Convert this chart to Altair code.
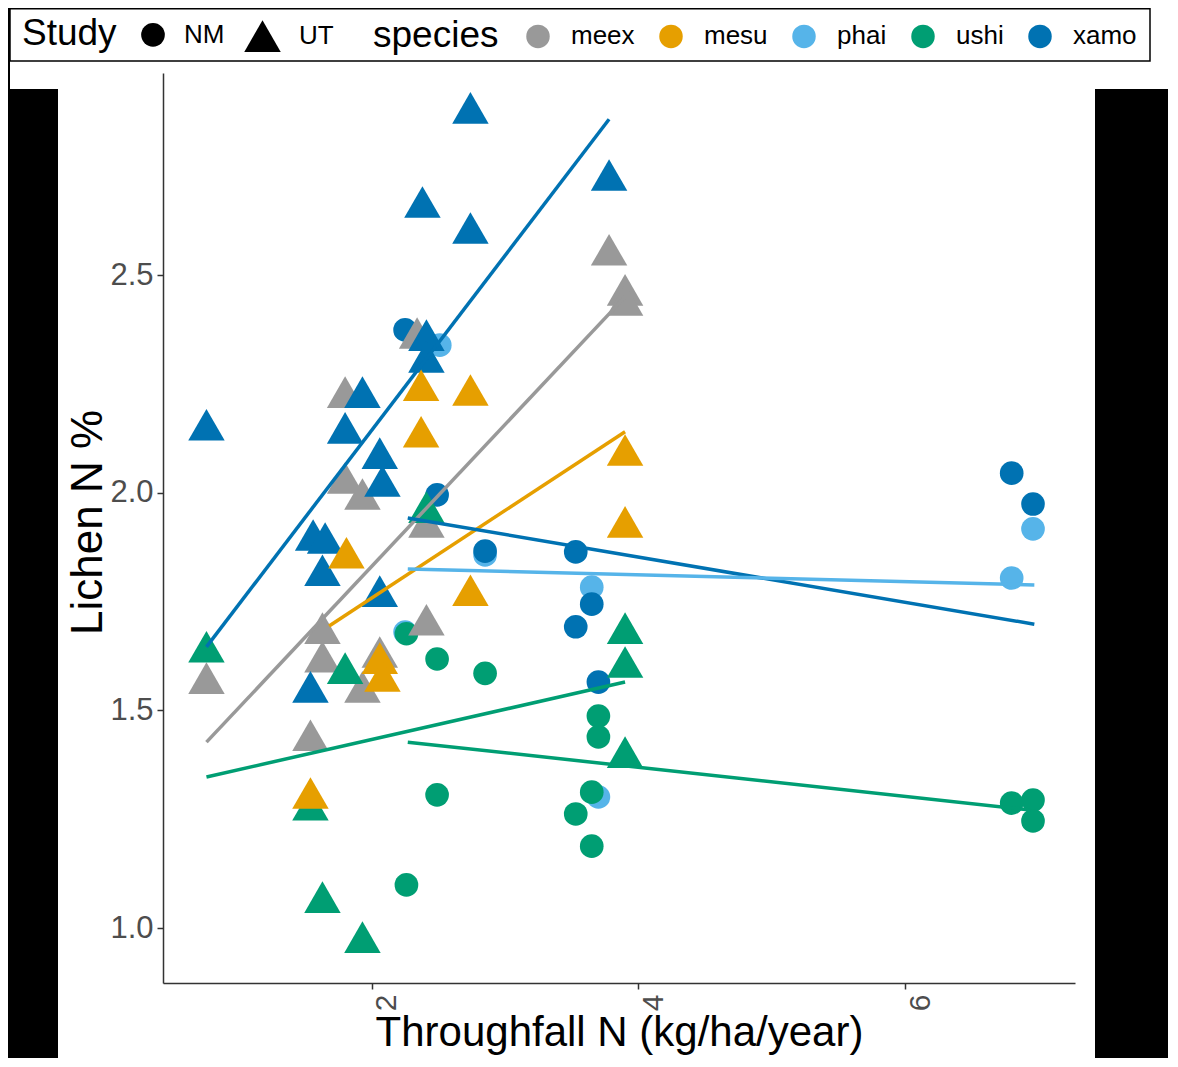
import altair as alt
import pandas as pd

FONT = "Liberation Sans"

species_order = ["meex", "mesu", "phai", "ushi", "xamo"]
species_colors = ["#999999", "#E69F00", "#56B4E9", "#009E73", "#0072B2"]
study_order = ["NM", "UT"]
study_shapes = ["circle", "triangle-up"]

# ---- points (Throughfall N, Lichen N %) ----
phai_NM_x = [2.51, 2.25, 2.85, 3.65, 3.70, 6.80, 6.96]
phai_NM_y = [2.339, 1.680, 1.857, 1.783, 1.301, 1.804, 1.917]

xamo_NM_x = [2.25, 2.49, 2.85, 3.53, 3.65, 3.53, 3.70, 6.80, 6.96]
xamo_NM_y = [2.374, 1.995, 1.866, 1.864, 1.744, 1.692, 1.565, 2.045, 1.974]

ushi_NM_x = [2.26, 2.49, 2.85, 2.49, 2.26, 3.70, 3.70, 3.65, 3.53, 3.65, 6.80, 6.96, 6.96]
ushi_NM_y = [1.676, 1.618, 1.585, 1.306, 1.099, 1.487, 1.439, 1.312, 1.262, 1.188, 1.287, 1.294, 1.246]

meex_UT_x = [0.76, 1.80, 2.34, 1.80, 1.93, 2.41, 2.41, 1.63, 1.63, 1.93, 1.54, 3.78, 3.90, 3.90, 2.06]
meex_UT_y = [1.574, 2.231, 2.367, 2.034, 1.997, 1.933, 1.708, 1.689, 1.623, 1.554, 1.443, 2.558, 2.466, 2.443, 1.634]

ushi_UT_x = [0.76, 2.41, 1.80, 1.54, 1.63, 1.93, 3.90, 3.90, 3.90]
ushi_UT_y = [1.646, 1.967, 1.597, 1.283, 1.071, 0.979, 1.689, 1.611, 1.404]

xamo_UT_x = [0.76, 2.74, 2.38, 2.74, 3.78, 1.93, 1.80, 2.41, 2.41, 2.06, 2.08, 1.56, 1.65, 1.63, 2.06, 1.54]
xamo_UT_y = [2.156, 2.884, 2.668, 2.608, 2.730, 2.231, 2.149, 2.362, 2.312, 2.091, 2.027, 1.903, 1.896, 1.822, 1.774, 1.554]

mesu_UT_x = [2.37, 2.74, 2.37, 1.81, 3.90, 3.90, 2.74, 2.06, 2.08, 1.54]
mesu_UT_y = [2.247, 2.236, 2.140, 1.862, 2.098, 1.933, 1.776, 1.620, 1.579, 1.310]

# ---- fitted lines (start / end) ----
line_species = ["xamo", "meex", "mesu", "ushi", "xamo", "phai", "ushi"]
line_study = ["UT", "UT", "UT", "UT", "NM", "NM", "NM"]
line_x0 = [0.76, 0.76, 1.68, 0.76, 2.27, 2.27, 2.27]
line_y0 = [1.646, 1.427, 1.694, 1.347, 1.942, 1.825, 1.427]
line_x1 = [3.78, 3.90, 3.90, 3.90, 6.97, 6.97, 6.94]
line_y1 = [2.858, 2.450, 2.140, 1.565, 1.698, 1.788, 1.271]

groups = [
    ("phai", "NM", phai_NM_x, phai_NM_y),
    ("xamo", "NM", xamo_NM_x, xamo_NM_y),
    ("ushi", "NM", ushi_NM_x, ushi_NM_y),
    ("meex", "UT", meex_UT_x, meex_UT_y),
    ("ushi", "UT", ushi_UT_x, ushi_UT_y),
    ("xamo", "UT", xamo_UT_x, xamo_UT_y),
    ("mesu", "UT", mesu_UT_x, mesu_UT_y),
]
rows = []
for sp, st, xs, ys in groups:
    for xv, yv in zip(xs, ys):
        rows.append({"species": sp, "Study": st, "TN": xv, "LN": yv})
points_df = pd.DataFrame(rows)

lrows = []
for i in range(len(line_species)):
    g = f"{line_species[i]}_{line_study[i]}"
    lrows.append({"species": line_species[i], "Study": line_study[i], "grp": g, "TN": line_x0[i], "LN": line_y0[i]})
    lrows.append({"species": line_species[i], "Study": line_study[i], "grp": g, "TN": line_x1[i], "LN": line_y1[i]})
lines_df = pd.DataFrame(lrows)

W, H = 912, 910
xscale = alt.Scale(domain=[0.434, 7.275], nice=False, zero=False)
yscale = alt.Scale(domain=[0.8737, 2.9642], nice=False, zero=False)
cscale = alt.Scale(domain=species_order, range=species_colors)

one = pd.DataFrame({"k": [0]})

# background panels (decorative)
bg_top = alt.Chart(one).mark_rect(color="white").encode(
    x=alt.value(-153), x2=alt.value(1010), y=alt.value(-66), y2=alt.value(16))
bg_main = alt.Chart(one).mark_rect(color="white").encode(
    x=alt.value(-105), x2=alt.value(932), y=alt.value(15), y2=alt.value(990))
legend_box = alt.Chart(one).mark_rect(fill="white", stroke="black", strokeWidth=1.5).encode(
    x=alt.value(-153), x2=alt.value(987), y=alt.value(-64.2), y2=alt.value(-12))

x_axis = alt.Axis(values=[2, 4, 6], format="d", labelAngle=-90, labelAlign="right",
                  labelBaseline="top", labelFontSize=30, labelColor="#4D4D4D", labelPadding=5,
                  tickSize=6, tickColor="#333333", tickWidth=1.5, domainColor="#333333",
                  domainWidth=1.5, grid=False, zindex=1, labelFlush=False,
                  title="Throughfall N (kg/ha/year)", titleFontSize=42, titleFontWeight="normal",
                  titleColor="black", titleBaseline="alphabetic", titleY=62)
y_axis = alt.Axis(values=[1.0, 1.5, 2.0, 2.5], format=".1f", labelFontSize=31,
                  labelColor="#4D4D4D", labelPadding=4, tickSize=6, tickColor="#333333",
                  tickWidth=1.5, domainColor="#333333", domainWidth=1.5, grid=False, zindex=1,
                  labelFlush=False, title="Lichen N %", titleFontSize=44, titleFontWeight="normal",
                  titleColor="black", titleBaseline="alphabetic", titleX=-62, titleY=449)

study_legend = alt.Legend(title="Study", orient="none", legendX=-141, legendY=-55.7,
                          direction="horizontal", titleOrient="left", titleAnchor="middle",
                          titleBaseline="middle", titleFontSize=37, titleFontWeight="normal",
                          titlePadding=23, labelFontSize=26, labelOffset=18, columnPadding=19,
                          symbolStrokeWidth=0, padding=0)
species_legend = alt.Legend(title="species", orient="none", legendX=210, legendY=-49.6,
                            direction="horizontal", titleOrient="left", titleAnchor="middle",
                            titleBaseline="middle", titleFontSize=37, titleFontWeight="normal",
                            titlePadding=26, labelFontSize=26, labelOffset=20, columnPadding=23,
                            symbolType="circle", symbolSize=550, symbolStrokeWidth=0, padding=0)

pts = alt.Chart(points_df).mark_point(filled=True, opacity=1, color="black", strokeWidth=0).encode(
    x=alt.X("TN:Q", scale=xscale, axis=x_axis),
    y=alt.Y("LN:Q", scale=yscale, axis=y_axis),
    color=alt.Color("species:N", scale=cscale, legend=species_legend),
    shape=alt.Shape("Study:N", scale=alt.Scale(domain=study_order, range=study_shapes), legend=study_legend),
    size=alt.Size("Study:N", scale=alt.Scale(domain=study_order, range=[560, 1330]), legend=study_legend),
)

lns = alt.Chart(lines_df).mark_line(strokeWidth=3.5).encode(
    x=alt.X("TN:Q", scale=xscale),
    y=alt.Y("LN:Q", scale=yscale),
    color=alt.Color("species:N", scale=cscale, legend=None),
    detail="grp:N",
)

chart = alt.layer(bg_top, bg_main, legend_box, pts, lns).properties(
    width=W, height=H,
    autosize=alt.AutoSizeParams(type="none"),
    padding={"left": 155, "top": 65, "right": 93, "bottom": 75},
).configure(font=FONT, background="black").configure_view(strokeWidth=0).configure_legend(
    labelColor="black", titleColor="black", labelFont=FONT, titleFont=FONT)

chart.save("out.html", embed_options={"renderer": "svg", "actions": False})
